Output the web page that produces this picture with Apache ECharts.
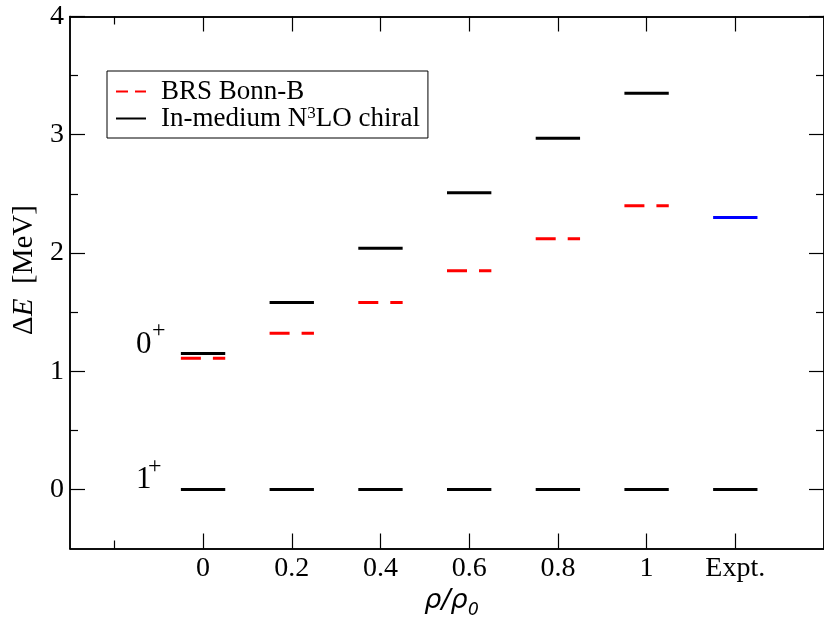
<!DOCTYPE html>
<html>
<head>
<meta charset="utf-8">
<script src="https://cdn.jsdelivr.net/npm/echarts@6/dist/echarts.min.js"></script>
<style>
html,body{margin:0;padding:0;background:#fff;}
#chart{width:824px;height:619px;}
</style>
</head>
<body>
<div id="chart"></div>
<script>
// ---- data ----
const categories = ['0', '0.2', '0.4', '0.6', '0.8', '1', 'Expt.'];
const chiralName = 'In-medium N3LO chiral';
const bonnName = 'BRS Bonn-B';
const chiral0plus = [1.15, 1.58, 2.04, 2.51, 2.97, 3.35];
const bonnB0plus = [1.11, 1.32, 1.58, 1.85, 2.12, 2.40];
const expt0plus = [2.30];
const exptIndex = [6];
const ground1plus = [0, 0, 0, 0, 0, 0, 0];
const yTicks = [0, 1, 2, 3, 4];
const yMinorTicks = [0.5, 1.5, 2.5, 3.5];
const xTicks = [0, 1, 2, 3, 4, 5, 6];
const xMinorTicks = [-1, 7];

const HALF = 0.25;
const serif = 'Liberation Serif';

function seg(i, v) { return [[i - HALF, v], [i + HALF, v]]; }

const series = [];
ground1plus.forEach((v, i) => series.push({
  name: chiralName, type: 'line', symbol: 'none', silent: true, z: 3,
  lineStyle: { color: '#000', width: 3 }, itemStyle: { color: '#000' },
  data: seg(i, v)
}));
bonnB0plus.forEach((v, i) => series.push({
  name: bonnName, type: 'line', symbol: 'none', silent: true, z: 2,
  lineStyle: { color: '#ff0000', width: 3, type: [20, 12] }, itemStyle: { color: '#ff0000' },
  data: seg(i, v)
}));
chiral0plus.forEach((v, i) => series.push({
  name: chiralName, type: 'line', symbol: 'none', silent: true, z: 3,
  lineStyle: { color: '#000', width: 3 }, itemStyle: { color: '#000' },
  data: seg(i, v)
}));
expt0plus.forEach((v, k) => series.push({
  name: 'Expt', type: 'line', symbol: 'none', silent: true, z: 3,
  lineStyle: { color: '#0000ff', width: 3 }, itemStyle: { color: '#0000ff' },
  data: seg(exptIndex[k], v)
}));

const axisLineStyle = { color: '#000', width: 1.5 };
function xAx(position, ticks, len, labels) {
  return {
    type: 'value', position: position, min: -1.5, max: 7,
    axisLine: { show: true, onZero: false, lineStyle: axisLineStyle },
    axisTick: { show: true, inside: true, length: len, customValues: ticks, lineStyle: { color: '#000', width: 1.2 } },
    axisLabel: labels ? {
      show: true, customValues: xTicks, margin: 6, color: '#000',
      fontFamily: serif, fontSize: 28,
      formatter: v => categories[Math.round(v)]
    } : { show: false },
    splitLine: { show: false }
  };
}
function yAx(position, ticks, len, labels) {
  return {
    type: 'value', position: position, min: -0.5, max: 4,
    axisLine: { show: true, onZero: false, lineStyle: axisLineStyle },
    axisTick: { show: true, inside: true, length: len, customValues: ticks, lineStyle: { color: '#000', width: 1.2 } },
    axisLabel: labels ? {
      show: true, customValues: yTicks, margin: 6, color: '#000',
      fontFamily: serif, fontSize: 28
    } : { show: false },
    splitLine: { show: false }
  };
}

const chart = echarts.init(document.getElementById('chart'), null, { renderer: 'canvas' });
chart.setOption({
  animation: false,
  backgroundColor: '#fff',
  grid: { left: 70, top: 16.5, right: -5, bottom: 70.5, containLabel: false },
  xAxis: [
    xAx('bottom', xTicks, 15, true),
    xAx('bottom', xMinorTicks, 8, false),
    xAx('top', xTicks, 15, false),
    xAx('top', xMinorTicks, 8, false)
  ],
  yAxis: [
    yAx('left', yTicks, 15, true),
    yAx('left', yMinorTicks, 8, false),
    yAx('right', yTicks, 15, false),
    yAx('right', yMinorTicks, 8, false)
  ],
  legend: {
    show: true, orient: 'vertical', left: 107, top: 71,
    data: [
      { name: bonnName, lineStyle: { color: '#ff0000', width: 2, type: [12, 7] }, itemStyle: { opacity: 0 } },
      { name: chiralName, lineStyle: { color: '#000', width: 2 }, itemStyle: { opacity: 0 } }
    ],
    itemWidth: 30, itemHeight: 14, itemGap: 0,
    padding: [7, 8, 6, 8],
    borderColor: '#000', borderWidth: 1, borderRadius: 0,
    backgroundColor: '#fff',
    selectedMode: false,
    formatter: name => name === chiralName
      ? '{t|In-medium N}{s|3}{t|LO chiral}'
      : '{t|' + name + '}',
    textStyle: {
      color: '#000', padding: [0, 0, 0, 10],
      fontFamily: serif, fontSize: 27,
      rich: {
        t: { fontFamily: serif, fontSize: 27, lineHeight: 27, color: '#000' },
        s: { fontFamily: serif, fontSize: 17, lineHeight: 8, verticalAlign: 'top', color: '#000' }
      }
    }
  },
  graphic: [
    { type: 'text', x: 24, y: 270, rotation: Math.PI / 2,
      style: { text: '{d|Δ}{e|E}{d|  [MeV]}', align: 'center', verticalAlign: 'middle',
        rich: {
          d: { fontFamily: serif, fontSize: 29, fill: '#000' },
          e: { fontFamily: serif, fontSize: 29, fontStyle: 'italic', fill: '#000' }
        } } },
    { type: 'text', x: 446, y: 601,
      style: { text: 'ρ/ρ', align: 'center', verticalAlign: 'middle',
        font: 'italic 27px "DejaVu Sans", sans-serif', fill: '#000' } },
    { type: 'text', x: 468, y: 611,
      style: { text: '0', align: 'left', verticalAlign: 'middle',
        font: 'italic 17px "DejaVu Sans", sans-serif', fill: '#000' } },
    { type: 'text', x: 136, y: 345,
      style: { text: '0', align: 'left', verticalAlign: 'middle',
        font: '31px "Liberation Serif"', fill: '#000' } },
    { type: 'text', x: 152, y: 331,
      style: { text: '+', align: 'left', verticalAlign: 'middle',
        font: '24px "Liberation Serif"', fill: '#000' } },
    { type: 'text', x: 136, y: 480,
      style: { text: '1', align: 'left', verticalAlign: 'middle',
        font: '31px "Liberation Serif"', fill: '#000' } },
    { type: 'text', x: 148, y: 467,
      style: { text: '+', align: 'left', verticalAlign: 'middle',
        font: '24px "Liberation Serif"', fill: '#000' } }
  ],
  series: series
});
</script>
</body>
</html>
